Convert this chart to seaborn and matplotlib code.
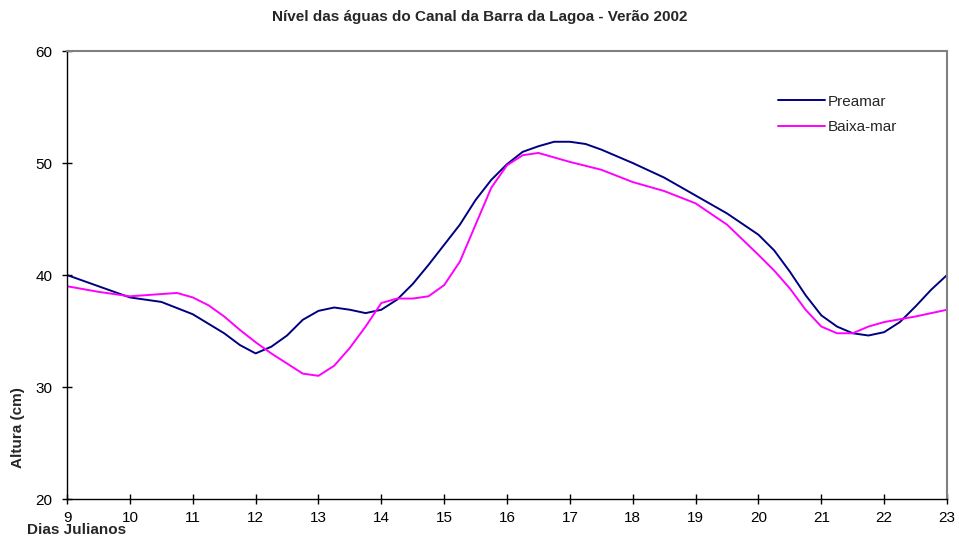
import pandas as pd
import numpy as np
import seaborn as sns
import matplotlib.pyplot as plt

# Dias julianos (amostrados da curva)
dias_pre = [9, 10, 10.5, 11, 11.5, 11.75, 12, 12.25, 12.5, 12.75, 13, 13.25, 13.5, 13.75,
            14, 14.25, 14.5, 14.75, 15, 15.25, 15.5, 15.75, 16, 16.25, 16.5, 16.75, 17,
            17.25, 17.5, 18, 18.5, 19, 19.5, 20, 20.25, 20.5, 20.75, 21, 21.25, 21.5,
            21.75, 22, 22.25, 22.5, 22.75, 23]
preamar = [40.0, 38.0, 37.6, 36.5, 34.8, 33.75, 33.0, 33.6, 34.6, 36.0, 36.8, 37.1, 36.9, 36.6,
           36.9, 37.8, 39.2, 40.9, 42.7, 44.5, 46.7, 48.5, 49.9, 51.0, 51.5, 51.9, 51.9,
           51.7, 51.2, 50.0, 48.7, 47.1, 45.5, 43.6, 42.2, 40.3, 38.2, 36.4, 35.4, 34.8,
           34.6, 34.9, 35.8, 37.2, 38.7, 40.0]

dias_bai = [9, 9.5, 10, 10.5, 10.75, 11, 11.25, 11.5, 11.75, 12, 12.25, 12.5, 12.75, 13,
            13.25, 13.5, 13.75, 14, 14.25, 14.5, 14.75, 15, 15.25, 15.5, 15.75, 16, 16.25,
            16.5, 16.75, 17, 17.5, 18, 18.5, 19, 19.5, 20, 20.25, 20.5, 20.75, 21, 21.25,
            21.5, 21.75, 22, 22.5, 23]
baixamar = [39.0, 38.5, 38.1, 38.3, 38.4, 38.0, 37.3, 36.3, 35.1, 34.0, 33.0, 32.1, 31.2, 31.0,
            31.9, 33.5, 35.4, 37.5, 37.9, 37.9, 38.1, 39.1, 41.2, 44.5, 47.8, 49.8, 50.7,
            50.9, 50.5, 50.1, 49.4, 48.3, 47.5, 46.4, 44.5, 41.8, 40.4, 38.8, 36.9, 35.4, 34.8,
            34.8, 35.4, 35.8, 36.3, 36.9]

df = pd.concat([
    pd.DataFrame({'dia': dias_pre, 'altura': preamar, 'serie': 'Preamar'}),
    pd.DataFrame({'dia': dias_bai, 'altura': baixamar, 'serie': 'Baixa-mar'}),
])

sns.set_style('white')
plt.rcParams['font.family'] = ['Liberation Sans', 'DejaVu Sans']

fig = plt.figure(figsize=(9.59, 5.43), dpi=100)
ax = fig.add_axes([0.0699, 0.081, 0.9176, 0.825])

sns.lineplot(data=df, x='dia', y='altura', hue='serie', sort=False,
             palette={'Preamar': '#000080', 'Baixa-mar': '#FF00FF'},
             linewidth=1.4, ax=ax)

ax.set_xlim(9, 23)
ax.set_ylim(20, 60)
ax.set_xticks(range(9, 24))
ax.set_yticks([20, 30, 40, 50, 60])
ax.tick_params(axis='both', direction='inout', length=7, width=1, labelsize=11,
               colors='black', bottom=True, left=True)
ax.tick_params(axis='x', pad=5)
ax.tick_params(axis='y', pad=7)

for s in ['left', 'bottom']:
    ax.spines[s].set_color('black')
    ax.spines[s].set_linewidth(1)
for s in ['top', 'right']:
    ax.spines[s].set_color('#808080')
    ax.spines[s].set_linewidth(1.5)

ax.set_xlabel('')
ax.set_ylabel('')
fig.text(0.019, 0.212, 'Altura (cm)', rotation=90, fontsize=11, fontweight='bold',
         ha='center', va='center')
fig.text(0.028, 0.024, 'Dias Julianos', fontsize=11, fontweight='bold',
         ha='left', va='center')
fig.text(0.5, 0.969, 'Nível das águas do Canal da Barra da Lagoa - Verão 2002',
         fontsize=11, fontweight='bold', ha='center', va='center')

ax.legend(title=None, frameon=False, loc='upper left', bbox_to_anchor=(0.792, 0.933),
          fontsize=11, handlelength=3.1, handletextpad=0.2, labelspacing=0.75)

fig.savefig('out.png', dpi=100)
